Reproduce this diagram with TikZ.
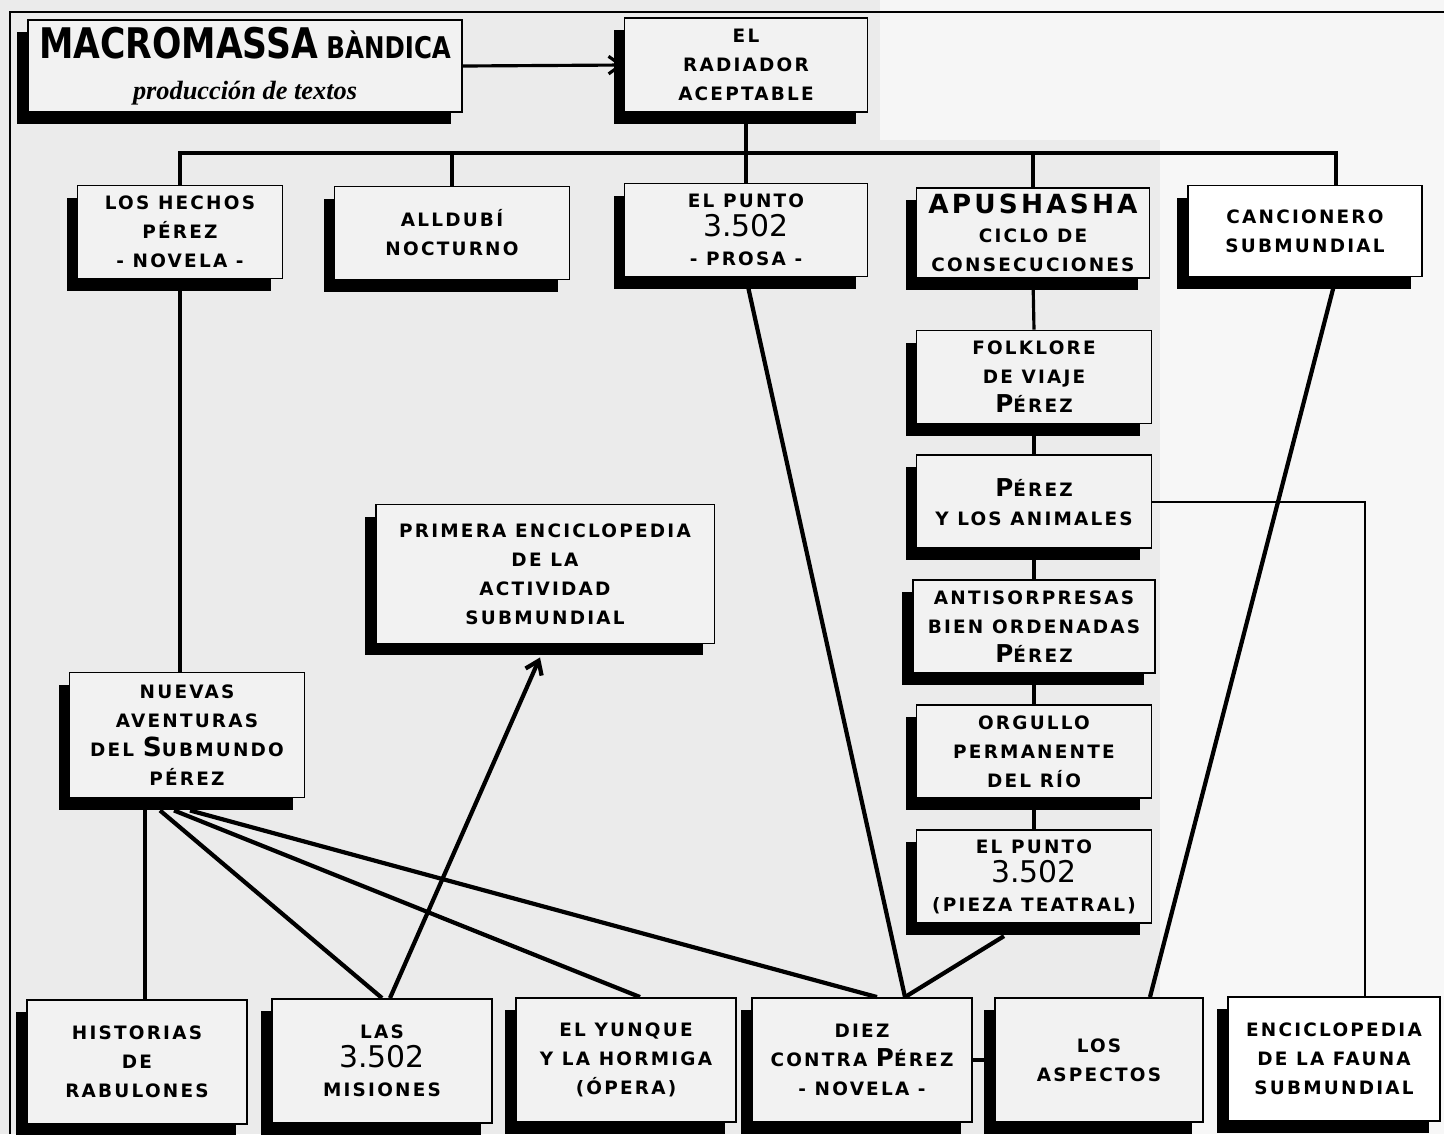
\documentclass[tikz,border=0pt]{standalone}
\usepackage{fontspec}
\setmainfont{DejaVu Sans}
\newfontfamily\cajafont[LetterSpace=12]{DejaVu Sans}
\newfontfamily\titulofont[FakeStretch=0.82]{DejaVu Sans}
\newfontfamily\letrafont{Liberation Serif}
\usetikzlibrary{positioning,shadows,arrows.meta}
\newcommand{\Grande}[1]{{\fontsize{15}{16}\selectfont #1}}
\newcommand{\Num}[1]{{\rmfamily\fontsize{17}{17}\selectfont\mdseries #1}}
\newcommand{\Perez}{{\fontsize{14}{16}\selectfont P}ÉREZ}
\tikzset{
  caja/.style={draw=black, line width=1.1pt, fill=gray!10, align=center, inner sep=1pt,
    font=\cajafont\bfseries\fontsize{10.5}{16.5}\selectfont,
    minimum width=4.7cm, minimum height=1.86cm,
    drop shadow={shadow xshift=-0.22cm, shadow yshift=-0.24cm, fill=black, opacity=1}},
  baja/.style={caja, minimum width=4.4cm, minimum height=2.48cm},
  linea/.style={line width=1.8pt},
  gruesa/.style={line width=2.4pt},
  fina/.style={line width=1.1pt}
}
\begin{document}
\begin{tikzpicture}[x=0.02cm, y=-0.02cm, node distance=0.6cm]
\useasboundingbox (0,0) rectangle (1444,1134);
% fondo
\fill[gray!16] (0,0) rectangle (1444,1134);
\fill[gray!6] (1160,140) rectangle (1444,1134);
\fill[gray!7] (880,0) rectangle (1444,140);
\draw[line width=1.5pt] (10,1134) -- (10,12) -- (1444,12);

% cajas de arriba
\node[caja, minimum width=8.68cm, minimum height=1.84cm] (macro) at (245,66)
  {{\titulofont\bfseries\fontsize{24}{26}\selectfont MACROMASSA} {\titulofont\bfseries\fontsize{17}{20}\selectfont BÀNDICA}\\[7pt]
   {\letrafont\itshape\fontsize{15}{18}\selectfont producción de textos}};
\node[caja, minimum width=4.86cm, minimum height=1.88cm] (radiador) at (746,65) {EL\\RADIADOR\\ACEPTABLE};
\node[caja, minimum width=4.1cm] (hechos) at (180,232) {LOS HECHOS\\PÉREZ\\- NOVELA -};
\node[caja] (alldubi) at (452,233) {ALLDUBÍ\\NOCTURNO};
\node[caja, minimum width=4.86cm] (prosa) at (746,230) {EL PUNTO\\\Num{3.502}\\- PROSA -};
\node[caja, minimum width=4.66cm, minimum height=1.8cm] (apushasha) at (1033,233) {\Grande{APUSHASHA}\\CICLO DE\\CONSECUCIONES};
\node[caja, fill=white, minimum width=4.68cm, minimum height=1.82cm] (cancionero) at (1305,231) {CANCIONERO\\SUBMUNDIAL};

% columna
\node[caja] (folklore) at (1034,377) {FOLKLORE\\DE VIAJE\\\Perez};
\node[caja, below=of folklore] (animales) {\Perez\\Y LOS ANIMALES};
\node[caja, minimum width=4.84cm, below=of animales] (antisorpresas) {ANTISORPRESAS\\BIEN ORDENADAS\\\Perez};
\node[caja, below=of antisorpresas] (orgullo) {ORGULLO\\PERMANENTE\\DEL RÍO};
\node[caja, below=of orgullo] (pieza) {EL PUNTO\\\Num{3.502}\\(PIEZA TEATRAL)};

% centro
\node[caja, minimum width=6.78cm, minimum height=2.78cm] (primera) at (545,574) {PRIMERA ENCICLOPEDIA\\DE LA\\ACTIVIDAD\\SUBMUNDIAL};
\node[caja, minimum height=2.5cm] (nuevas) at (187,735) {NUEVAS\\AVENTURAS\\DEL \Grande{S}UBMUNDO\\PÉREZ};

% fila de abajo
\node[baja] (historias) at (137,1062) {HISTORIAS\\DE\\RABULONES};
\node[baja] (las) at (382,1061) {LAS\\\Num{3.502}\\MISIONES};
\node[baja] (yunque) at (626,1060) {EL YUNQUE\\Y LA HORMIGA\\(ÓPERA)};
\node[baja] (diez) at (862,1060) {DIEZ\\CONTRA \Perez\\- NOVELA -};
\node[baja, minimum width=4.16cm] (aspectos) at (1099,1060) {LOS\\ASPECTOS};
\node[baja, fill=white, minimum width=4.24cm] (fauna) at (1334,1059) {ENCICLOPEDIA\\DE LA FAUNA\\SUBMUNDIAL};

% conectores
\coordinate (bus) at (0,153);
\coordinate (cancTop) at ([xshift=0.62cm]cancionero.north);
\coordinate (faunaTop) at ([xshift=0.62cm]fauna.north);
\draw[linea, -{Straight Barb[length=7pt,width=10pt]}] (macro.east) -- (radiador.west);
\draw[gruesa] (radiador.south) -- (radiador.south |- bus);
\draw[gruesa] (hechos.north) -- (hechos.north |- bus) -- (cancTop |- bus) -- (cancTop);
\foreach \n in {alldubi, prosa, apushasha}
  \draw[linea] (\n.north) -- (\n.north |- bus);
\draw[linea] (hechos.south) -- (hechos.south |- nuevas.north);
\foreach \a/\b in {apushasha/folklore, folklore/animales, animales/antisorpresas, antisorpresas/orgullo, orgullo/pieza}
  \draw[linea] (\a.south) -- (\b.north);
\draw[fina] (animales.east) -| (faunaTop);
\draw[gruesa] (cancTop |- cancionero.south) -- ([xshift=1.02cm]aspectos.north);
\draw[gruesa] (prosa.south) -- ([xshift=0.86cm]diez.north);
\draw[gruesa] ([xshift=-0.6cm,yshift=-0.24cm]pieza.south) -- ([xshift=0.86cm]diez.north);
\draw[linea] ([xshift=-0.84cm]nuevas.south) -- ([xshift=-0.84cm]nuevas.south |- historias.north);
\draw[gruesa] ([xshift=-0.54cm,yshift=-0.24cm]nuevas.south) -- (las.north);
\draw[gruesa] ([xshift=-0.26cm,yshift=-0.24cm]nuevas.south) -- ([xshift=0.28cm]yunque.north);
\draw[gruesa] ([xshift=0.06cm,yshift=-0.24cm]nuevas.south) -- ([xshift=0.3cm]diez.north);
\draw[gruesa, -{Straight Barb[length=7pt,width=10pt]}] ([xshift=0.16cm]las.north) -- ([xshift=-0.1cm,yshift=-0.26cm]primera.south);
\draw[linea] (diez.east) -- (aspectos.west);
\end{tikzpicture}
\end{document}
